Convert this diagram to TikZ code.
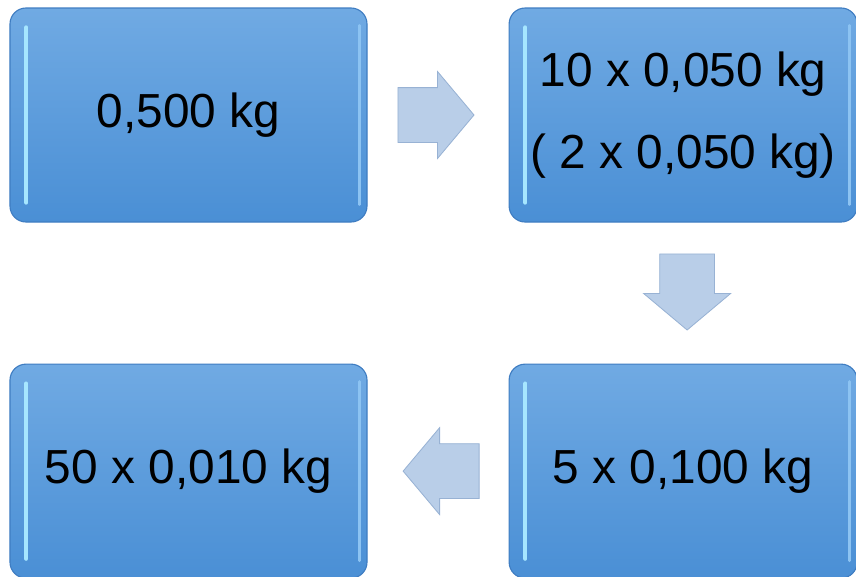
\documentclass[tikz,border=0pt]{standalone}
\usepackage{fontspec}
\setmainfont{Liberation Sans}
\usetikzlibrary{positioning,shapes.arrows}

\definecolor{boxtop}{HTML}{70AAE3}
\definecolor{boxbot}{HTML}{4A8FD5}
\definecolor{boxline}{HTML}{3F7DC2}
\definecolor{boxglow}{HTML}{A6E6FF}
\definecolor{boxrim}{HTML}{8CC3F2}
\definecolor{arrowfill}{HTML}{B9CEE8}
\definecolor{arrowline}{HTML}{98B2D4}

\tikzset{
  massbox/.style={draw=boxline, line width=0.8pt, rounded corners=0.4cm,
    top color=boxtop, bottom color=boxbot, minimum height=5.35cm,
    align=center, font=\fontsize{34}{58}\selectfont},
  blockarrow/.style={single arrow, draw=arrowline, fill=arrowfill, line width=0.6pt,
    minimum height=1.9cm, inner xsep=0pt, inner ysep=0.675cm,
    single arrow head extend=0.4cm, single arrow tip angle=100},
  glow/.style={boxglow, line width=3pt, line cap=round},
  rim/.style={boxrim, line width=2pt, line cap=round}
}

\begin{document}
\begin{tikzpicture}
\useasboundingbox (0,0) rectangle (21.4,-14.4);

\node[massbox, minimum width=8.925cm] (a) at (4.7125,-2.875) {0,500 kg};
\node[massbox, minimum width=8.7cm, right=3.525cm of a] (b) {10 x 0,050 kg\\( 2 x 0,050 kg)};
\node[massbox, minimum width=8.7cm, below=3.525cm of b] (c) {5 x 0,100 kg};
\node[massbox, minimum width=8.925cm, left=3.525cm of c] (d) {50 x 0,010 kg};

% bevel highlights
\foreach \n in {a,b,c,d} {
  \draw[glow] ([xshift=0.42cm,yshift=-0.5cm]\n.north west) -- ([xshift=0.42cm,yshift=0.5cm]\n.south west);
  \draw[rim] ([xshift=-0.2cm,yshift=-0.45cm]\n.north east) -- ([xshift=-0.2cm,yshift=0.45cm]\n.south east);
}

\node[blockarrow, right=0.75cm of a] (ab) {};
\node[blockarrow, shape border rotate=270, inner xsep=0.675cm, inner ysep=0pt, below=0.775cm of b, xshift=0.1cm] (bc) {};
\node[blockarrow, shape border rotate=180, left=0.725cm of c] (cd) {};
\end{tikzpicture}
\end{document}
